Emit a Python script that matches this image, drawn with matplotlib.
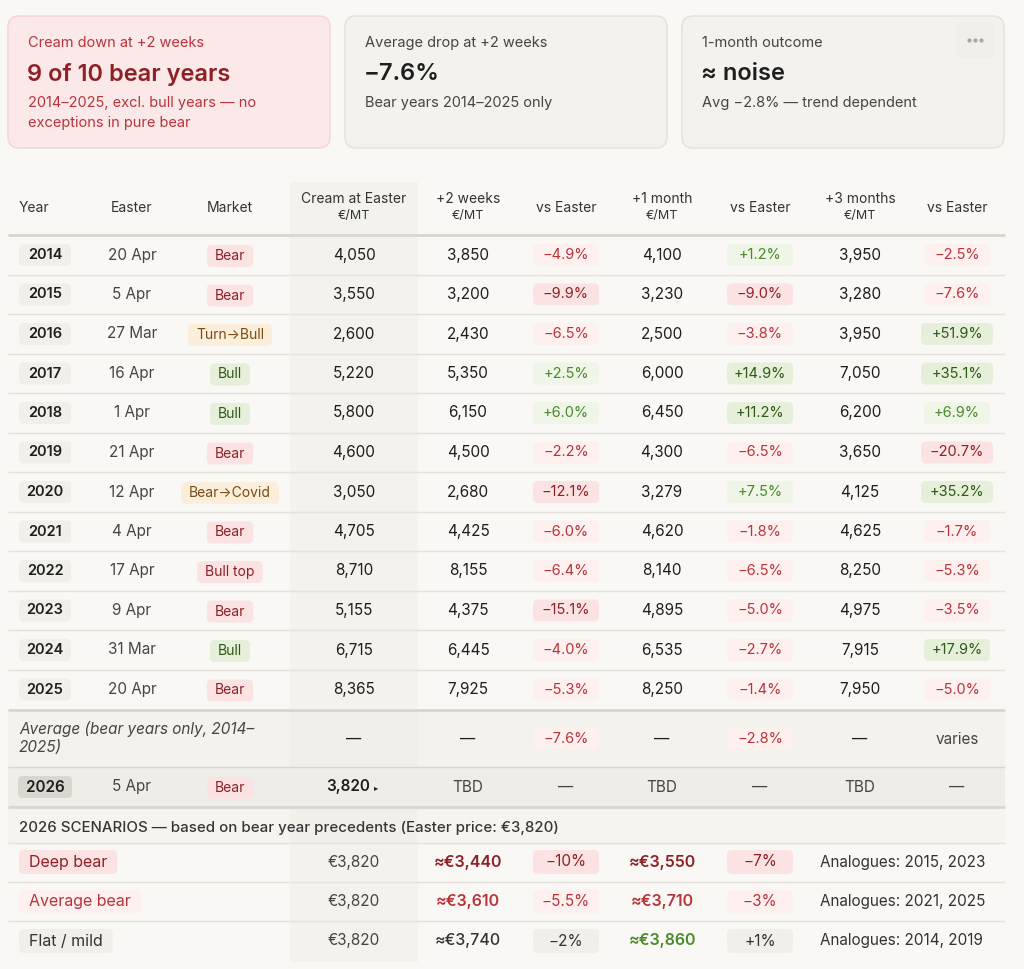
#!/usr/bin/env python3
"""Easter cream price table: bear-year precedents and 2026 scenarios."""

import matplotlib
matplotlib.use("Agg")
import matplotlib.pyplot as plt
from matplotlib.patches import FancyBboxPatch, Rectangle


W, H = 1024, 969
FONT = ["Inter", "DejaVu Sans"]
MINUS = "\u2212"

# ---- data -------------------------------------------------------------
years = [2014, 2015, 2016, 2017, 2018, 2019, 2020, 2021, 2022, 2023, 2024, 2025]
easter_dates = ["20 Apr", "5 Apr", "27 Mar", "16 Apr", "1 Apr", "21 Apr",
                "12 Apr", "4 Apr", "17 Apr", "9 Apr", "31 Mar", "20 Apr"]
markets = ["Bear", "Bear", "Turn→Bull", "Bull", "Bull", "Bear",
           "Bear→Covid", "Bear", "Bull top", "Bear", "Bull", "Bear"]
cream_easter = [4050, 3550, 2600, 5220, 5800, 4600, 3050, 4705, 8710, 5155, 6715, 8365]
cream_2w = [3850, 3200, 2430, 5350, 6150, 4500, 2680, 4425, 8155, 4375, 6445, 7925]
pct_2w = [-4.9, -9.9, -6.5, 2.5, 6.0, -2.2, -12.1, -6.0, -6.4, -15.1, -4.0, -5.3]
cream_1m = [4100, 3230, 2500, 6000, 6450, 4300, 3279, 4620, 8140, 4895, 6535, 8250]
pct_1m = [1.2, -9.0, -3.8, 14.9, 11.2, -6.5, 7.5, -1.8, -6.5, -5.0, -2.7, -1.4]
cream_3m = [3950, 3280, 3950, 7050, 6200, 3650, 4125, 4625, 8250, 4975, 7915, 7950]
pct_3m = [-2.5, -7.6, 51.9, 35.1, 6.9, -20.7, 35.2, -1.7, -5.3, -3.5, 17.9, -5.0]

avg_pct_2w = -7.6
avg_pct_1m = -2.8

year_2026 = 2026
easter_2026 = "5 Apr"
market_2026 = "Bear"
cream_2026 = 3820

scenario_names = ["Deep bear", "Average bear", "Flat / mild"]
scenario_tones = ["strong", "light", "neutral"]
scenario_2w = [3440, 3610, 3740]
scenario_2w_pct = [-10, -5.5, -2]
scenario_1m = [3550, 3710, 3860]
scenario_1m_pct = [-7, -3, 1]
scenario_analogues = ["2015, 2023", "2021, 2025", "2014, 2019"]

# ---- colours ----------------------------------------------------------
BG = "#f9f8f5"
INK = "#1e1e1e"
MUTED = "#454545"
LINE = "#e5e2db"
LINE_BOLD = "#d9d6cf"
RED_DARK = "#8e2026"
RED = "#b8343b"
RED_FILL_STRONG = "#fbe3e3"
RED_FILL_LIGHT = "#fdf0ef"
GREEN_DARK = "#2e5a17"
GREEN = "#4b8a2b"
GREEN_FILL_STRONG = "#e5efd9"
GREEN_FILL_LIGHT = "#eff5e7"
AMBER = "#7a4b12"
AMBER_FILL = "#fbeedb"
NEUTRAL_FILL = "#f0efe9"

MARKET_STYLE = {
    "Bear": (RED_FILL_STRONG, RED_DARK),
    "Bull top": (RED_FILL_STRONG, RED_DARK),
    "Bull": (GREEN_FILL_STRONG, GREEN_DARK),
    "Turn→Bull": (AMBER_FILL, AMBER),
    "Bear→Covid": (AMBER_FILL, AMBER),
}

# column centres
X_YEAR, X_EASTER, X_MARKET = 45, 132, 230
X_CREAM, X_2W, X_2WP, X_1M, X_1MP, X_3M, X_3MP = 354, 468, 566, 662, 760, 860, 957
TABLE_L, TABLE_R = 8, 1005


def fmt_pct(v, digits=1):
    s = f"{abs(v):.{digits}f}%"
    return ("+" if v > 0 else MINUS) + s


def pct_style(v):
    strong = abs(v) >= 8.5
    if v >= 0:
        return (GREEN_FILL_STRONG, GREEN_DARK) if strong else (GREEN_FILL_LIGHT, GREEN)
    return (RED_FILL_STRONG, RED_DARK) if strong else (RED_FILL_LIGHT, RED)


def text_width(ax, t):
    r = ax.figure.canvas.get_renderer()
    return t.get_window_extent(r).width


def badge(ax, x, y, label, fc, color, width=None, pad=8, h=22, size=10.5,
          weight="normal", ha="center", r=5):
    tx = x if ha == "center" else x + pad
    t = ax.text(tx, y, label, ha=ha, va="center", fontsize=size, color=color,
                fontweight=weight, family=FONT, zorder=3)
    w = width if width else text_width(ax, t) + 2 * pad
    x0 = x - w / 2 if ha == "center" else x
    ax.add_patch(FancyBboxPatch((x0, y - h / 2), w, h,
                                boxstyle=f"round,pad=0,rounding_size={r}",
                                fc=fc, ec="none", zorder=2))
    return t


def txt(ax, x, y, s, size=11, color=INK, ha="center", weight="normal", **kw):
    return ax.text(x, y, s, ha=ha, va="center", fontsize=size, color=color,
                   fontweight=weight, family=FONT, zorder=3, **kw)


def hline(ax, y, lw=1, color=LINE):
    ax.plot([TABLE_L, TABLE_R], [y, y], color=color, lw=lw, zorder=1.5,
            solid_capstyle="butt")


def card(ax, x, label, big, sub, fc, ec, c_label, c_big, c_sub):
    ax.add_patch(FancyBboxPatch((x, 16), 322, 132,
                                boxstyle="round,pad=0,rounding_size=11",
                                fc=fc, ec=ec, lw=1, zorder=1))
    txt(ax, x + 20, 43, label, size=10.5, color=c_label, ha="left")
    txt(ax, x + 19, 74, big, size=17, color=c_big, ha="left", weight="semibold")
    for i, line in enumerate(sub):
        txt(ax, x + 20, 103 + i * 20, line, size=10.5, color=c_sub, ha="left")


def main():
    fig = plt.figure(figsize=(W / 100, H / 100), dpi=100, facecolor=BG)
    ax = fig.add_axes([0, 0, 1, 1])
    ax.set_xlim(0, W)
    ax.set_ylim(H, 0)
    ax.set_axis_off()
    ax.set_facecolor(BG)

    # ---- summary cards ------------------------------------------------
    card(ax, 8, "Cream down at +2 weeks", "9 of 10 bear years",
         ["2014–2025, excl. bull years — no", "exceptions in pure bear"],
         "#fbe9e9", "#f6d3d3", RED, RED_DARK, RED)
    card(ax, 345, "Average drop at +2 weeks", fmt_pct(avg_pct_2w),
         ["Bear years 2014–2025 only"],
         "#f3f2ec", "#e3e1da", MUTED, INK, MUTED)
    card(ax, 682, "1-month outcome", "≈ noise",
         [f"Avg {fmt_pct(avg_pct_1m)} — trend dependent"],
         "#f3f2ec", "#e3e1da", MUTED, INK, MUTED)
    ax.add_patch(FancyBboxPatch((956, 22), 38, 36,
                                boxstyle="round,pad=0,rounding_size=6",
                                fc="#f0efe9", ec="none", zorder=1.2))
    for dx in (-6, 0, 6):
        ax.plot(975 + dx, 40, "o", ms=2, color="#a9a7a1", zorder=3)

    # ---- table backgrounds --------------------------------------------
    ax.add_patch(Rectangle((TABLE_L, 710), TABLE_R - TABLE_L, 57, fc="#f3f2ec",
                           ec="none", zorder=0.5))
    ax.add_patch(Rectangle((TABLE_L, 767), TABLE_R - TABLE_L, 40, fc="#efede7",
                           ec="none", zorder=0.5))
    ax.add_patch(Rectangle((TABLE_L, 807), TABLE_R - TABLE_L, 36, fc="#f5f4ef",
                           ec="none", zorder=0.5))
    ax.add_patch(Rectangle((290, 182), 128, 780, fc="#efeee8", ec="none",
                           alpha=0.55, zorder=0.8))

    # ---- header -------------------------------------------------------
    hs = 10
    txt(ax, 19, 208, "Year", size=hs, color="#333333", ha="left")
    txt(ax, X_EASTER, 208, "Easter", size=hs, color="#333333")
    txt(ax, X_MARKET, 208, "Market", size=hs, color="#333333")
    for x, top in ((X_CREAM, "Cream at Easter"), (X_2W, "+2 weeks"),
                   (X_1M, "+1 month"), (X_3M, "+3 months")):
        txt(ax, x, 199, top, size=hs, color="#333333")
        txt(ax, x, 216, "€/MT", size=9, color="#333333")
    for x in (X_2WP, X_1MP, X_3MP):
        txt(ax, x, 208, "vs Easter", size=hs, color="#333333")
    hline(ax, 235, lw=2, color=LINE_BOLD)

    # ---- year rows ----------------------------------------------------
    row_h = 39.5
    y0 = 255
    for i, yr in enumerate(years):
        y = y0 + i * row_h
        badge(ax, X_YEAR, y, str(yr), NEUTRAL_FILL, INK, width=52,
              weight="semibold")
        txt(ax, X_EASTER, y, easter_dates[i], color=MUTED)
        fc, c = MARKET_STYLE[markets[i]]
        badge(ax, X_MARKET, y + 1, markets[i], fc, c, size=10)
        txt(ax, X_CREAM, y, f"{cream_easter[i]:,}")
        txt(ax, X_2W, y, f"{cream_2w[i]:,}")
        txt(ax, X_1M, y, f"{cream_1m[i]:,}")
        txt(ax, X_3M, y, f"{cream_3m[i]:,}")
        for x, v in ((X_2WP, pct_2w[i]), (X_1MP, pct_1m[i]), (X_3MP, pct_3m[i])):
            fc, c = pct_style(v)
            wd = 66 if abs(v) < 20 else 72
            badge(ax, x, y, fmt_pct(v), fc, c, width=wd)
        if i < len(years) - 1:
            hline(ax, y + row_h / 2)
    hline(ax, 710, lw=2, color=LINE_BOLD)

    # ---- average row --------------------------------------------------
    ya = 739
    txt(ax, 19, 729, "Average (bear years only, 2014–", color=MUTED, ha="left",
        style="italic")
    txt(ax, 19, 748, "2025)", color=MUTED, ha="left", style="italic")
    for x in (X_CREAM, X_2W, X_1M, X_3M):
        txt(ax, x, ya, "—", color=INK)
    for x, v in ((X_2WP, avg_pct_2w), (X_1MP, avg_pct_1m)):
        fc, c = pct_style(v)
        badge(ax, x, ya, fmt_pct(v), fc, c, width=66)
    txt(ax, X_3MP, ya, "varies", color=MUTED)
    hline(ax, 767, lw=1, color=LINE_BOLD)

    # ---- 2026 row -----------------------------------------------------
    yn = 787
    badge(ax, X_YEAR, yn, str(year_2026), "#d9d6cf", INK, width=54,
          weight="semibold", size=11)
    txt(ax, X_EASTER, yn, easter_2026, color=MUTED)
    fc, c = MARKET_STYLE[market_2026]
    badge(ax, X_MARKET, yn + 1, market_2026, fc, c, size=10)
    txt(ax, X_CREAM - 6, yn, f"{cream_2026:,}", weight="semibold")
    txt(ax, X_CREAM + 22, yn + 1, "▸", size=6, color=INK)
    for x in (X_2W, X_1M, X_3M):
        txt(ax, x, yn, "TBD", color=MUTED)
    for x in (X_2WP, X_1MP, X_3MP):
        txt(ax, x, yn, "—", color=MUTED)
    hline(ax, 807, lw=2, color=LINE_BOLD)

    # ---- scenarios ----------------------------------------------------
    txt(ax, 19, 828,
        f"{year_2026} SCENARIOS — based on bear year precedents "
        f"(Easter price: €{cream_2026:,})",
        size=10.8, color="#363636", ha="left", weight="medium")
    hline(ax, 843)
    tone_style = {
        "strong": (RED_FILL_STRONG, RED_DARK, RED_DARK, RED_DARK),
        "light": (RED_FILL_LIGHT, RED, RED, RED),
        "neutral": (NEUTRAL_FILL, "#333333", "#333333", GREEN),
    }
    for i, name in enumerate(scenario_names):
        y = 862 + i * 39.5
        fc, c_lab, c_2w, c_1m = tone_style[scenario_tones[i]]
        badge(ax, 19, y, name, fc, c_lab, pad=10, h=24, size=11.5, ha="left")
        txt(ax, X_CREAM, y, f"€{cream_2026:,}", color=MUTED)
        txt(ax, X_2W, y, f"≈€{scenario_2w[i]:,}", size=11.5, color=c_2w,
            weight="semibold" if scenario_tones[i] != "neutral" else "medium")
        txt(ax, X_1M, y, f"≈€{scenario_1m[i]:,}", size=11.5, color=c_1m,
            weight="semibold")
        for x, v in ((X_2WP, scenario_2w_pct[i]), (X_1MP, scenario_1m_pct[i])):
            digits = 0 if float(v).is_integer() else 1
            badge(ax, x, y, fmt_pct(v, digits), fc, c_lab, width=66, h=24,
                  size=11)
        txt(ax, 820, y, f"Analogues: {scenario_analogues[i]}", color="#333333",
            ha="left")
        if i < len(scenario_names) - 1:
            hline(ax, y + 19.75)

    fig.savefig("out.png", dpi=100, facecolor=BG)
    plt.close(fig)


if __name__ == "__main__":
    main()
